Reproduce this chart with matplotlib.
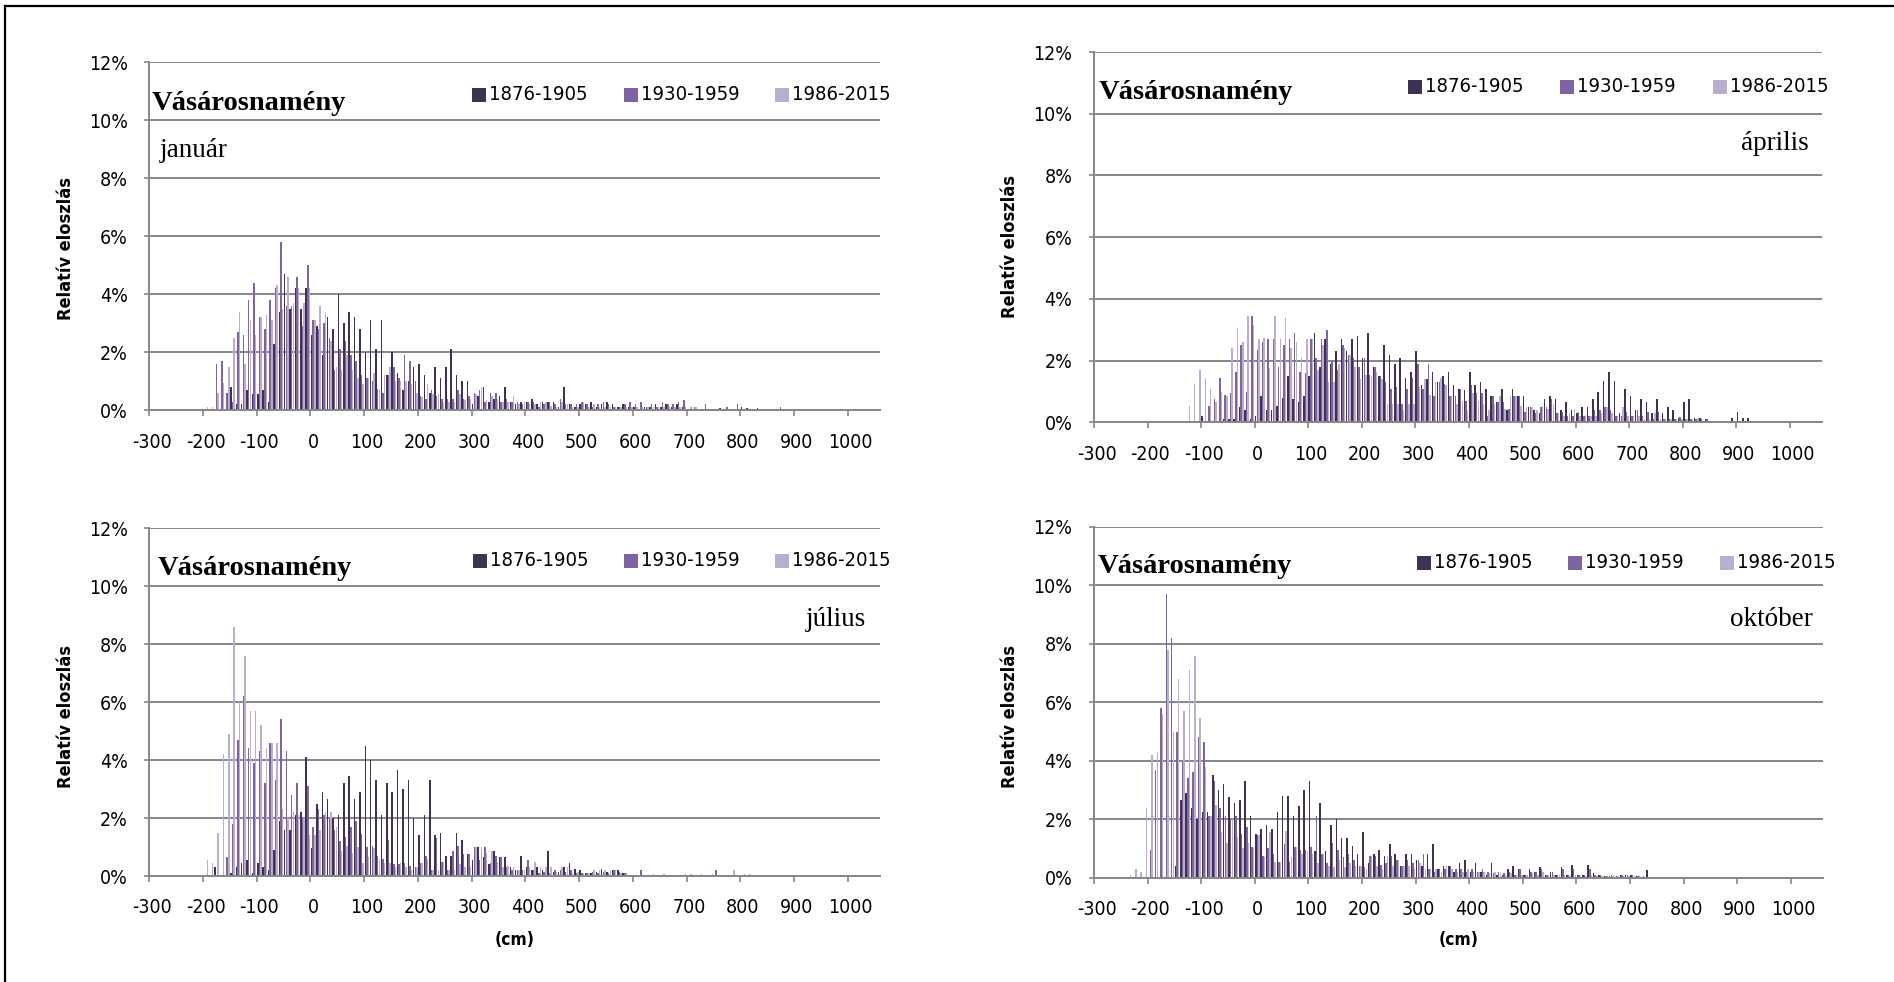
import numpy as np
import matplotlib
matplotlib.use('Agg')
import matplotlib.pyplot as plt
from matplotlib.patches import Rectangle
from matplotlib.lines import Line2D

# ---- data: relative distribution (%) per 10 cm water-level bin ----
periods = ['1876-1905', '1930-1959', '1986-2015']
colors = ['#3f3151', '#8064a2', '#b9aed0']
xtick_values = list(range(-300, 1001, 100))
ytick_values = [0, 2, 4, 6, 8, 10, 12]

# január, bins start at -200 cm
jan_start = -200
jan_1876 = [0, 0, 0, 0, 0.05, 0.8, 0.2, 0.2, 0.7, 0.55,
            0.55, 0.7, 0.3, 2.3, 3.4, 4.7, 3.5, 4.2, 3.5, 4.2,
            2.6, 2.9, 1.9, 3.2, 2.8, 4.0, 3.0, 3.4, 3.2, 2.8,
            2.0, 3.1, 2.1, 3.1, 1.2, 2.0, 1.3, 0.7, 1.0, 1.5,
            1.6, 1.2, 0.6, 1.5, 1.1, 1.5, 2.1, 1.2, 1.0, 1.0,
            0.2, 0.5, 0.8, 0.3, 0.4, 0.5, 0.8, 0.3, 0.2, 0.3,
            0.3, 0.4, 0.2, 0.3, 0.3, 0.3, 0.1, 0.8, 0.2, 0.1,
            0.2, 0.2, 0.3, 0.1, 0.2, 0.3, 0.2, 0.1, 0.2, 0.1,
            0.1, 0, 0.1, 0.1, 0.2, 0.1, 0.2, 0.1, 0.2, 0.1,
            0, 0, 0, 0, 0, 0, 0.08, 0, 0, 0,
            0.1, 0.08, 0, 0.08, 0, 0, 0, 0, 0]
jan_1930 = [0, 0, 1.6, 1.7, 0.6, 0.3, 2.7, 2.6, 3.8, 4.4,
            3.2, 2.8, 3.8, 4.2, 5.8, 3.6, 3.6, 4.6, 2.9, 5.0,
            3.1, 2.8, 3.0, 2.5, 1.4, 2.1, 2.4, 1.9, 1.7, 1.2,
            1.1, 1.0, 0.75, 0.6, 1.2, 1.5, 1.1, 1.9, 1.7, 1.0,
            0.5, 0.4, 0.7, 0.5, 0.4, 0.4, 0.4, 0.7, 0.4, 0.5,
            0.6, 0.7, 0.3, 0.6, 0.6, 0.3, 0.4, 0.3, 0.3, 0.2,
            0.3, 0.3, 0.1, 0.2, 0.3, 0.2, 0.4, 0.2, 0.2, 0.2,
            0.3, 0.2, 0.1, 0.2, 0.3, 0.2, 0.1, 0.1, 0.2, 0.3,
            0.2, 0.3, 0.1, 0.2, 0.1, 0.3, 0.2, 0.2, 0.3, 0.35,
            0, 0.1, 0, 0.2, 0, 0, 0, 0.1, 0, 0.2,
            0, 0, 0, 0, 0, 0, 0, 0.1, 0]
jan_1986 = [0.1, 0.1, 0.6, 0.95, 1.5, 2.5, 3.4, 1.6, 3.1, 2.6,
            3.2, 3.3, 3.1, 4.3, 3.5, 4.6, 3.7, 4.2, 3.7, 4.2,
            3.1, 3.6, 3.4, 2.4, 1.5, 1.4, 1.9, 1.4, 1.1, 0.9,
            1.1, 1.3, 0.75, 1.2, 1.5, 1.0, 1.0, 1.0, 0.9, 0.6,
            0.45, 0.9, 0.55, 0.55, 0.3, 0.3, 0.3, 0.55, 0.35, 0.4,
            0.55, 0.8, 0.35, 0.5, 0.4, 0.3, 0.3, 0.5, 0.2, 0.3,
            0.2, 0.2, 0.3, 0.3, 0.15, 0.1, 0.3, 0.2, 0.1, 0.1,
            0.3, 0.1, 0.2, 0.1, 0.1, 0.1, 0.1, 0.1, 0.1, 0.1,
            0.1, 0.1, 0.1, 0.1, 0.1, 0.1, 0.1, 0.1, 0.1, 0.1,
            0.1, 0.1, 0, 0, 0, 0, 0, 0, 0, 0,
            0, 0, 0, 0, 0, 0, 0, 0, 0]

# április, bins start at -140 cm
apr_start = -140
apr_1876 = [0, 0, 0, 0, 0.2, 0, 0, 0, 0.1, 0.1,
            0.1, 0.5, 0.4, 0.1, 0.2, 0.85, 0.4, 0.4, 0.55, 0.8,
            1.5, 0.75, 0.65, 0.85, 1.5, 2.9, 1.8, 2.7, 1.9, 2.3,
            2.7, 2.3, 2.7, 2.8, 2.1, 2.9, 1.8, 1.5, 2.5, 2.2,
            1.9, 2.1, 1.45, 1.65, 2.3, 1.2, 1.4, 1.65, 1.3, 1.5,
            1.65, 1.2, 1.1, 1.05, 1.65, 1.2, 1.3, 1.1, 0.85, 0.65,
            1.1, 0.4, 1.1, 0.85, 0.85, 0.5, 0.4, 0.3, 0.75, 0.85,
            0.75, 0.4, 0.65, 0.4, 0.3, 0.5, 0.5, 0.75, 1.0, 1.35,
            1.65, 1.35, 0.3, 1.1, 0.85, 0.4, 0.75, 0.65, 0.3, 0.75,
            0.3, 0.5, 0.4, 0.15, 0.65, 0.75, 0.15, 0.15, 0.1, 0.05,
            0, 0.05, 0.05, 0.15, 0.33, 0.15, 0.15]
apr_1930 = [0, 0, 0, 0, 0, 0.55, 0.75, 1.45, 0.9, 0.95,
            1.65, 2.5, 1.0, 3.45, 2.35, 2.6, 2.7, 2.7, 1.8, 2.5,
            2.7, 2.9, 1.65, 1.6, 2.7, 2.1, 2.7, 3.0, 2.0, 1.7,
            2.5, 2.2, 2.1, 1.8, 2.1, 1.55, 1.8, 1.5, 1.3, 1.1,
            1.15, 0.6, 1.1, 1.45, 1.9, 1.1, 1.9, 0.85, 1.3, 1.25,
            0.85, 0.85, 1.1, 0.7, 1.2, 0.95, 0.95, 0.2, 0.85, 0.65,
            0.65, 0.45, 0.85, 0.85, 0.35, 0.5, 0.3, 0.5, 0.5, 0.75,
            0.3, 0.35, 0.2, 0.2, 0.35, 0.2, 0.2, 0.4, 0.4, 0.5,
            0.4, 0.2, 0.2, 0.35, 0.2, 0.4, 0.2, 0.35, 0.1, 0.35,
            0.1, 0.1, 0.1, 0.17, 0.1, 0.1, 0.1, 0.1, 0.1, 0.05,
            0, 0, 0, 0, 0, 0, 0]
apr_1986 = [0.05, 0.55, 1.25, 1.7, 1.45, 1.1, 0.65, 1.0, 0.85, 2.4,
            3.05, 2.6, 3.45, 3.15, 2.7, 2.75, 1.75, 3.45, 2.7, 3.4,
            2.4, 2.6, 2.1, 2.7, 2.7, 1.7, 2.5, 1.3, 1.3, 1.9,
            2.4, 2.2, 1.8, 1.4, 1.55, 1.5, 1.65, 1.4, 0.6, 0.6,
            0.6, 0.4, 0.6, 0.6, 1.15, 1.4, 0.9, 1.3, 1.45, 1.2,
            0.85, 0.6, 0.7, 0.4, 0.95, 0.7, 0.6, 0.4, 0.6, 0.85,
            0.45, 0.85, 0.85, 0.55, 0.5, 0.5, 0.4, 0.55, 0.45, 0.6,
            0.3, 0.2, 0.3, 0.43, 0.2, 0.25, 0.2, 0.2, 0.3, 0.5,
            0.3, 0.2, 0.5, 0.2, 0.2, 0.2, 0.1, 0.1, 0.3, 0.1,
            0.1, 0.1, 0.1, 0.1, 0.1, 0.1, 0.15, 0, 0, 0,
            0, 0, 0, 0, 0, 0, 0]

# július, bins start at -200 cm
jul_start = -200
jul_1876 = [0, 0, 0.3, 0, 0, 0.1, 0.3, 0.45, 0.55, 0.1,
            0.45, 0.3, 0.2, 0.9, 1.9, 1.6, 1.6, 2.1, 2.2, 4.1,
            0.95, 2.5, 2.9, 2.65, 2.0, 2.1, 3.2, 3.45, 2.65, 2.9,
            4.5, 4.0, 3.3, 2.1, 3.2, 2.9, 3.65, 3.0, 3.3, 2.0,
            1.4, 2.1, 3.3, 1.4, 1.5, 0.7, 0.7, 1.5, 1.25, 0.75,
            0.55, 1.0, 0.65, 0.4, 0.85, 0.65, 0.65, 0.3, 0.2, 0.7,
            0.3, 0.2, 0.3, 0.2, 0.85, 0.15, 0.15, 0.3, 0.45, 0.25,
            0.2, 0.1, 0.1, 0.15, 0.25, 0.15, 0.2, 0.2, 0.1, 0,
            0, 0, 0, 0, 0, 0, 0, 0, 0, 0,
            0, 0, 0, 0, 0, 0, 0, 0, 0, 0,
            0, 0]
jul_1930 = [0, 0, 0, 0, 0.65, 1.8, 4.7, 6.2, 4.4, 3.9,
            4.3, 3.2, 4.6, 3.3, 5.4, 4.3, 2.8, 3.2, 2.0, 3.1,
            1.7, 2.3, 2.1, 2.0, 1.6, 1.2, 1.35, 1.7, 1.9, 1.45,
            1.0, 1.05, 0.7, 0.6, 1.25, 0.4, 0.4, 0.45, 0.35, 0.3,
            0.45, 0.7, 0.2, 1.3, 0.5, 0.2, 0.85, 1.05, 0.75, 0.75,
            1.0, 0.55, 1.0, 0.45, 0.7, 0.65, 0.3, 0.2, 0.2, 0.2,
            0.55, 0.2, 0.1, 0.15, 0.1, 0.2, 0.2, 0.15, 0.2, 0.1,
            0.1, 0.1, 0.15, 0.1, 0.15, 0.1, 0.2, 0.15, 0.1, 0,
            0, 0.2, 0, 0, 0, 0.05, 0, 0.05, 0, 0,
            0, 0, 0.05, 0, 0.05, 0.2, 0, 0, 0, 0,
            0, 0]
jul_1986 = [0.55, 0.45, 1.5, 4.2, 4.9, 8.6, 6.0, 7.6, 5.7, 5.7,
            5.2, 4.4, 4.6, 4.6, 2.3, 2.0, 2.2, 2.1, 2.0, 1.4,
            1.4, 1.6, 2.2, 2.2, 1.7, 0.85, 1.05, 0.8, 1.0, 0.45,
            0.65, 0.95, 0.6, 0.45, 0.45, 0.3, 0.45, 0.3, 0.2, 0.3,
            0.45, 0.6, 0.2, 0.2, 0.5, 0.2, 0.2, 0.4, 0.3, 0.3,
            1.0, 1.0, 0.8, 0.85, 0.5, 0.3, 0.35, 0.3, 0.2, 0.2,
            0.3, 0.5, 0.3, 0.3, 0.3, 0.15, 0.3, 0.3, 0.1, 0.15,
            0.1, 0.1, 0.2, 0.2, 0.2, 0.2, 0.2, 0.1, 0.1, 0.05,
            0.05, 0.05, 0.05, 0.08, 0.05, 0.08, 0.05, 0.05, 0.05, 0.08,
            0.08, 0.05, 0.08, 0.05, 0.08, 0.05, 0.05, 0.05, 0.2, 0.05,
            0.08, 0.08]

# október, bins start at -240 cm
okt_start = -240
okt_1876 = [0, 0, 0, 0, 0, 0, 0, 0, 0, 0.4,
            2.65, 2.9, 2.4, 2.0, 2.25, 2.25, 3.5, 3.0, 3.2, 2.75,
            2.55, 2.65, 3.3, 2.1, 1.5, 1.65, 1.8, 1.65, 2.25, 2.8,
            2.8, 2.1, 2.45, 3.0, 3.3, 0.9, 2.55, 0.9, 1.8, 2.0,
            1.35, 1.35, 1.1, 0.8, 1.55, 0.5, 0.8, 0.95, 0.75, 1.15,
            0.8, 0.4, 0.8, 0.8, 0.6, 0.4, 0.8, 1.15, 0.3, 0.4,
            0.4, 0.2, 0.5, 0.6, 0.2, 0.5, 0.2, 0.1, 0.5, 0.1,
            0.1, 0.3, 0.4, 0.3, 0.1, 0.3, 0.2, 0.35, 0.1, 0.2,
            0.1, 0.35, 0.1, 0.45, 0.1, 0.1, 0.45, 0.15, 0.1, 0.05,
            0.05, 0, 0.1, 0.1, 0.1, 0.05, 0, 0.26, 0]
okt_1930 = [0, 0, 0, 0, 0.95, 3.7, 5.8, 9.7, 8.2, 5.0,
            4.0, 3.4, 3.6, 4.8, 4.65, 2.1, 3.3, 2.4, 2.1, 2.0,
            2.1, 1.5, 1.75, 1.05, 1.45, 0.75, 1.0, 0.8, 0.55, 1.15,
            0.55, 1.05, 0.95, 0.95, 1.05, 2.1, 0.8, 0.5, 1.2, 0.95,
            0.7, 0.8, 0.6, 0.4, 0.35, 0.73, 0.73, 0.45, 0.5, 0.73,
            0.6, 0.4, 0.6, 0.5, 0.6, 0.8, 0.3, 0.2, 0.3, 0.3,
            0.4, 0.3, 0.3, 0.2, 0.3, 0.2, 0.3, 0.2, 0.15, 0.2,
            0.15, 0.2, 0.1, 0.3, 0.1, 0.2, 0.2, 0.3, 0.1, 0.2,
            0.1, 0.3, 0.1, 0.3, 0.1, 0.1, 0.3, 0.1, 0.1, 0.05,
            0.1, 0.05, 0.1, 0.1, 0.1, 0.05, 0.05, 0, 0]
okt_1986 = [0.1, 0.3, 0.2, 2.4, 4.2, 4.3, 5.6, 7.8, 5.0, 6.8,
            5.7, 7.1, 7.6, 5.45, 3.8, 2.1, 2.5, 1.55, 1.2, 2.0,
            1.4, 1.0, 1.2, 1.0, 1.45, 0.7, 1.55, 0.55, 0.55, 1.6,
            0.7, 1.05, 0.8, 0.9, 0.8, 0.5, 0.8, 0.4, 0.35, 0.6,
            0.35, 0.5, 0.4, 0.4, 0.3, 0.73, 0.4, 0.3, 0.73, 0.4,
            0.6, 0.4, 0.4, 0.3, 0.5, 0.3, 0.3, 0.3, 0.2, 0.4,
            0.3, 0.2, 0.2, 0.3, 0.2, 0.2, 0.2, 0.15, 0.2, 0.15,
            0.1, 0.15, 0.1, 0.1, 0.1, 0.15, 0.1, 0.2, 0.1, 0.1,
            0.1, 0.1, 0.05, 0.1, 0.05, 0.05, 0.1, 0.05, 0.05, 0.05,
            0.05, 0.05, 0.05, 0.05, 0.05, 0.05, 0, 0, 0]

# ---- layout helpers (pixel positions on the 1894x982 canvas) ----
W, H = 1894, 982
GRID = '#868686'
sans = 'DejaVu Sans'
serif = ['Liberation Serif', 'DejaVu Serif']


def fx(x):
    return x / W


def fy(y):
    return 1 - y / H


fig = plt.figure(figsize=(W / 100, H / 100), dpi=100)


def draw_panel(box, start, series, station_y, station_x, month, month_x, month_y,
               leg_x, leg_y, ylab_x, ylab_y, xlabel=False):
    left, top, right, bottom = box
    ax = fig.add_axes([fx(left), fy(bottom), (right - left) / W, (bottom - top) / H])
    bins = start + 10 * np.arange(len(series[0]))
    for off, vals, c in zip((-3.0, 0, 3.0), series, colors):
        ax.bar(bins + 5 + off, vals, width=2.8, color=c, linewidth=0, zorder=2)

    ax.set_xlim(-300, 1060)
    ax.set_ylim(0, 12)
    ax.set_yticks(ytick_values)
    ax.set_yticklabels([f'{v}%' for v in ytick_values], family=sans,
                       stretch='condensed', fontsize=14)
    ax.set_xticks([v + 5 for v in xtick_values])
    ax.set_xticklabels([str(v) for v in xtick_values], family=sans,
                       stretch='condensed', fontsize=14)
    ax.set_xticks(xtick_values, minor=True)
    ax.tick_params(axis='x', which='major', length=0, pad=16)
    ax.tick_params(axis='x', which='minor', length=4.5, width=1.2, color=GRID, direction='out')
    ax.tick_params(axis='y', length=3.6, width=1.2, color=GRID, pad=12)
    ax.grid(axis='y', color=GRID, linewidth=1.4, zorder=0)
    ax.set_axisbelow(True)
    for s in ('top', 'right'):
        ax.spines[s].set_visible(False)
    for s in ('left', 'bottom'):
        ax.spines[s].set_color(GRID)
        ax.spines[s].set_linewidth(1.4)

    fig.text(fx(station_x), fy(station_y), 'Vásárosnamény', family=serif,
             fontweight='bold', fontsize=20.5, va='baseline', ha='left')
    ha = 'left' if month == 'január' else 'right'
    fig.text(fx(month_x), fy(month_y), month, family=serif, fontsize=19.5,
             va='baseline', ha=ha)

    for lx, label, c in zip(leg_x, periods, colors):
        fig.patches.append(Rectangle((fx(lx), fy(leg_y + 7)), 14 / W, 14 / H,
                                     transform=fig.transFigure, color=c, lw=0))
        fig.text(fx(lx + 17), fy(leg_y), label, family=sans, stretch='condensed',
                 fontsize=14.5, va='center', ha='left')

    fig.text(fx(ylab_x), fy(ylab_y), 'Relatív eloszlás', family=sans, stretch='condensed',
             fontweight='bold', fontsize=13, rotation=90, va='center', ha='center')
    if xlabel:
        fig.text(fx((left + right) / 2), fy(940), '(cm)', family=sans, stretch='condensed',
                 fontweight='bold', fontsize=12.5, va='center', ha='center')
    return ax


draw_panel((149.3, 62, 880, 410.3), jan_start, (jan_1876, jan_1930, jan_1986),
           110, 152, 'január', 160, 157, (472, 624, 775), 95, 66, 248)
draw_panel((1094, 52, 1822, 422.5), apr_start, (apr_1876, apr_1930, apr_1986),
           99, 1099, 'április', 1809, 150, (1408, 1560, 1713), 87, 1010, 247)
draw_panel((149.3, 528, 880, 876), jul_start, (jul_1876, jul_1930, jul_1986),
           575, 158, 'július', 866, 626, (473, 624, 775), 561, 66, 716, xlabel=True)
draw_panel((1094, 527, 1823, 877.7), okt_start, (okt_1876, okt_1930, okt_1986),
           573, 1098, 'október', 1813, 626, (1417, 1568, 1720), 563, 1010, 716, xlabel=True)

# thin black frame on the left and top edges
fig.add_artist(Line2D([fx(5), fx(5)], [fy(6), 0], transform=fig.transFigure,
                      color='black', lw=1.6))
fig.add_artist(Line2D([fx(5), 1], [fy(6), fy(6)], transform=fig.transFigure,
                      color='black', lw=1.6))

fig.savefig('out.png', dpi=100)
